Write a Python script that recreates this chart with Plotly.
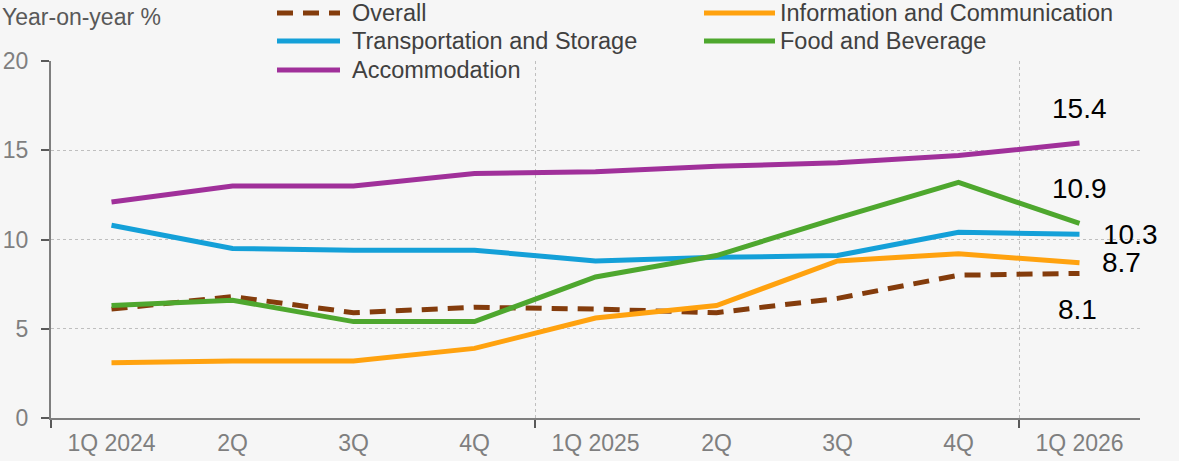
import plotly.graph_objects as go

# ---- data ----
quarters = ["1Q 2024", "2Q", "3Q", "4Q", "1Q 2025", "2Q", "3Q", "4Q", "1Q 2026"]
overall = [6.1, 6.8, 5.9, 6.2, 6.1, 5.9, 6.7, 8.0, 8.1]
info_comm = [3.1, 3.2, 3.2, 3.9, 5.6, 6.3, 8.8, 9.2, 8.7]
transport = [10.8, 9.5, 9.4, 9.4, 8.8, 9.0, 9.1, 10.4, 10.3]
food_bev = [6.3, 6.6, 5.4, 5.4, 7.9, 9.1, 11.2, 13.2, 10.9]
accommodation = [12.1, 13.0, 13.0, 13.7, 13.8, 14.1, 14.3, 14.7, 15.4]

series_names = ["Overall", "Information and Communication", "Transportation and Storage",
                "Food and Beverage", "Accommodation"]
series_values = [overall, info_comm, transport, food_bev, accommodation]
series_colors = ["#843C0C", "#FFA20F", "#14A0D8", "#4EA72E", "#A0309A"]
series_dash = ["16px,10px", "solid", "solid", "solid", "solid"]

# ---- layout constants ----
W, H = 1179, 461
L, R, T, B = 51, 39, 61, 43
FONT = "Liberation Sans, Arial, sans-serif"
BG = "#F6F6F6"

def px_x(p):
    return (p - L) / (W - L - R)

def px_y(p):
    return (H - B - p) / (H - T - B)

xs = list(range(len(quarters)))
fig = go.Figure()
for name, vals, col, dash in zip(series_names, series_values, series_colors, series_dash):
    fig.add_trace(go.Scatter(x=xs, y=vals, mode="lines", name=name,
                             line=dict(color=col, width=5, dash=dash),
                             showlegend=False, hoverinfo="skip"))

# manual legend (2 columns)
leg_pos = [(277, 340, 350, 13), (704, 775, 778, 13), (277, 340, 350, 41),
           (704, 775, 778, 41), (277, 340, 350, 70)]
shapes = []
annotations = []
for (x0, x1, tx, ty), name, col, dash in zip(leg_pos, series_names, series_colors, series_dash):
    shapes.append(dict(type="line", xref="paper", yref="paper",
                       x0=px_x(x0), x1=px_x(x1), y0=px_y(ty), y1=px_y(ty),
                       line=dict(color=col, width=5, dash=dash)))
    annotations.append(dict(text=name, xref="paper", yref="paper", x=px_x(tx), y=px_y(ty),
                            xanchor="left", yanchor="middle", showarrow=False,
                            font=dict(size=23.5, color="#404040", family=FONT)))

# y-axis title
annotations.append(dict(text="Year-on-year %", xref="paper", yref="paper",
                        x=px_x(0), y=px_y(17), xanchor="left", yanchor="middle",
                        showarrow=False, font=dict(size=23, color="#595959", family=FONT)))

# end-value labels
label_shifts = {"Overall": (-2, -36), "Information and Communication": (42, 0),
                "Transportation and Storage": (51, 0), "Food and Beverage": (0, 35),
                "Accommodation": (0, 35)}
for name, vals in zip(series_names, series_values):
    dx, dy = label_shifts[name]
    annotations.append(dict(text=f"{vals[-1]:.1f}", x=xs[-1], y=vals[-1], xref="x", yref="y",
                            showarrow=False, xshift=dx, yshift=dy,
                            font=dict(size=28, color="#000000", family=FONT)))

fig.update_layout(
    width=W, height=H,
    margin=dict(l=L, r=R, t=T, b=B, pad=0),
    paper_bgcolor=BG, plot_bgcolor=BG,
    font=dict(family=FONT),
    shapes=shapes, annotations=annotations,
    showlegend=False,
)
fig.update_xaxes(
    range=[-0.5, 8.5], tickvals=xs, ticktext=quarters, ticks="",
    showgrid=False, zeroline=False, automargin=False,
    showline=True, linecolor="#7F7F7F", linewidth=2,
    tickfont=dict(size=23, color="#7F7F7F", family=FONT),
    ticklabelstandoff=3,
    minor=dict(tick0=3.5, dtick=4, ticks="outside", ticklen=8, tickcolor="#595959",
               tickwidth=2, showgrid=True, gridcolor="#BFBFBF", griddash="dot", gridwidth=1),
)
fig.update_yaxes(
    range=[0, 20], dtick=5, ticks="outside", ticklen=8, tickcolor="#595959", tickwidth=2,
    showgrid=True, gridcolor="#BFBFBF", griddash="dot", gridwidth=1,
    zeroline=False, showline=True, linecolor="#7F7F7F", linewidth=2, automargin=False,
    tickfont=dict(size=23, color="#7F7F7F", family=FONT),
    ticklabelstandoff=8,
)

fig.write_html("out.html")
